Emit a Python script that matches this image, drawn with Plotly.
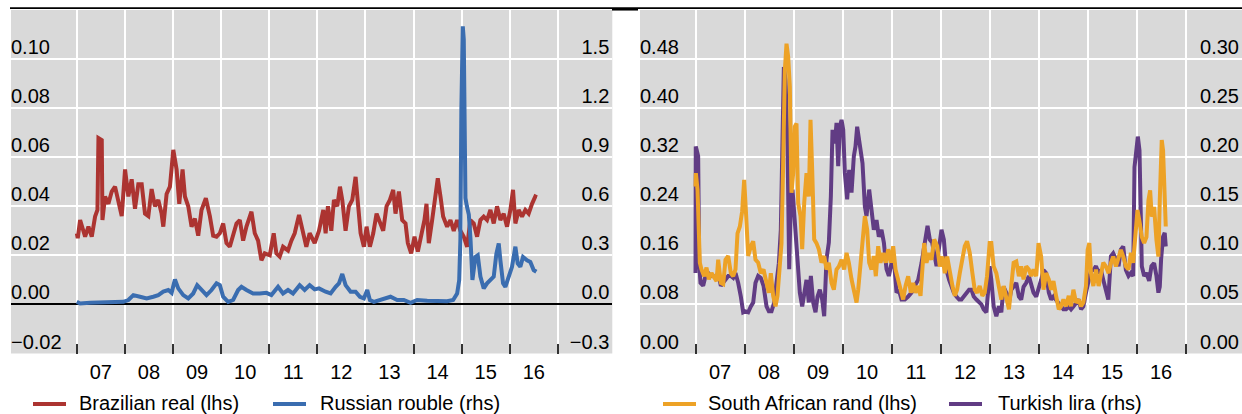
import plotly.graph_objects as go

# ---------------- data (decimal years, values) ----------------
brl_t = [2007.000, 2007.020, 2007.069, 2007.173, 2007.242, 2007.311, 2007.380, 2007.429, 2007.450, 2007.519,
         2007.533, 2007.588, 2007.657, 2007.726, 2007.795, 2007.864, 2007.934, 2008.003, 2008.072, 2008.141,
         2008.210, 2008.279, 2008.349, 2008.418, 2008.487, 2008.556, 2008.625, 2008.694, 2008.763, 2008.798,
         2008.867, 2008.936, 2009.006, 2009.075, 2009.130, 2009.199, 2009.248, 2009.317, 2009.386, 2009.455,
         2009.524, 2009.593, 2009.683, 2009.766, 2009.835, 2009.905, 2009.974, 2010.043, 2010.112, 2010.181,
         2010.250, 2010.320, 2010.389, 2010.458, 2010.527, 2010.631, 2010.700, 2010.769, 2010.838, 2010.907,
         2011.011, 2011.094, 2011.149, 2011.218, 2011.288, 2011.391, 2011.461, 2011.530, 2011.620, 2011.703,
         2011.772, 2011.841, 2011.945, 2012.035, 2012.125, 2012.173, 2012.221, 2012.291, 2012.346, 2012.415,
         2012.471, 2012.519, 2012.588, 2012.657, 2012.727, 2012.796, 2012.844, 2012.900, 2012.969, 2013.024,
         2013.093, 2013.163, 2013.232, 2013.301, 2013.370, 2013.439, 2013.509, 2013.578, 2013.626, 2013.696,
         2013.765, 2013.834, 2013.882, 2013.952, 2014.021, 2014.090, 2014.159, 2014.228, 2014.270, 2014.318,
         2014.388, 2014.457, 2014.505, 2014.561, 2014.616, 2014.699, 2014.768, 2014.837, 2014.907, 2014.976,
         2015.045, 2015.114, 2015.183, 2015.253, 2015.322, 2015.391, 2015.460, 2015.529, 2015.599, 2015.668,
         2015.737, 2015.806, 2015.875, 2015.945, 2016.014, 2016.069, 2016.118, 2016.187, 2016.256, 2016.325,
         2016.394, 2016.464, 2016.533, 2016.567]
brl_v = [0.029, 0.027, 0.0344, 0.0276, 0.0317, 0.0276, 0.0358, 0.0385, 0.0678, 0.067,
         0.0344, 0.044, 0.041, 0.046, 0.048, 0.041, 0.036, 0.055, 0.044, 0.051,
         0.039, 0.049, 0.049, 0.037, 0.036, 0.047, 0.040, 0.0426, 0.037, 0.0317,
         0.045, 0.048, 0.063, 0.055, 0.041, 0.055, 0.044, 0.040, 0.0317, 0.035,
         0.028, 0.0385, 0.0433, 0.036, 0.028, 0.0276, 0.029, 0.033, 0.025, 0.0235,
         0.0276, 0.033, 0.0344, 0.026, 0.0317, 0.0378, 0.029, 0.026, 0.018, 0.0208,
         0.020, 0.029, 0.0208, 0.0195, 0.0235, 0.022, 0.026, 0.029, 0.0365, 0.030,
         0.0235, 0.029, 0.025, 0.030, 0.0385, 0.029, 0.040, 0.030, 0.0426, 0.040,
         0.048, 0.0426, 0.030, 0.040, 0.0426, 0.052, 0.040, 0.029, 0.0235, 0.0317,
         0.0235, 0.029, 0.037, 0.033, 0.030, 0.040, 0.0426, 0.0467, 0.037, 0.046,
         0.0344, 0.033, 0.025, 0.0208, 0.0276, 0.0215, 0.0276, 0.0344, 0.041, 0.025,
         0.0344, 0.045, 0.0514, 0.044, 0.0358, 0.0317, 0.0344, 0.030, 0.0344, 0.030,
         0.0276, 0.0235, 0.0344, 0.033, 0.0276, 0.0344, 0.0358, 0.0344, 0.0385, 0.033,
         0.040, 0.0344, 0.037, 0.0317, 0.0385, 0.0467, 0.033, 0.0385, 0.0358, 0.0385,
         0.037, 0.041, 0.044, 0.0437]

rub_t = [2007.000, 2007.069, 2007.277, 2007.553, 2007.761, 2007.968, 2008.072, 2008.176, 2008.314, 2008.452,
         2008.591, 2008.694, 2008.798, 2008.902, 2008.971, 2009.040, 2009.109, 2009.213, 2009.317, 2009.420,
         2009.503, 2009.593, 2009.697, 2009.801, 2009.905, 2009.974, 2010.043, 2010.147, 2010.250, 2010.354,
         2010.423, 2010.527, 2010.665, 2010.804, 2010.942, 2011.046, 2011.184, 2011.288, 2011.391, 2011.495,
         2011.633, 2011.737, 2011.841, 2011.945, 2012.035, 2012.173, 2012.277, 2012.381, 2012.450, 2012.519,
         2012.588, 2012.692, 2012.796, 2012.886, 2012.969, 2013.038, 2013.093, 2013.176, 2013.315, 2013.522,
         2013.661, 2013.799, 2013.938, 2014.076, 2014.284, 2014.491, 2014.699, 2014.824, 2014.907, 2014.950,
         2014.975, 2014.995, 2015.010, 2015.025, 2015.045, 2015.062, 2015.080, 2015.110, 2015.150, 2015.185,
         2015.225, 2015.287, 2015.336, 2015.391, 2015.460, 2015.529, 2015.599, 2015.668, 2015.723, 2015.772,
         2015.806, 2015.862, 2015.910, 2015.979, 2016.048, 2016.118, 2016.166, 2016.221, 2016.277, 2016.360,
         2016.429, 2016.498, 2016.554]
rub_v = [0.016, 0.006, 0.010, 0.014, 0.016, 0.016, 0.027, 0.057, 0.047, 0.037,
         0.047, 0.057, 0.078, 0.088, 0.071, 0.153, 0.098, 0.057, 0.037, 0.067,
         0.118, 0.088, 0.057, 0.088, 0.129, 0.118, 0.047, 0.016, 0.027, 0.088,
         0.108, 0.088, 0.067, 0.067, 0.071, 0.057, 0.108, 0.067, 0.088, 0.067,
         0.118, 0.088, 0.118, 0.092, 0.098, 0.078, 0.067, 0.108, 0.129, 0.186,
         0.118, 0.078, 0.078, 0.047, 0.037, 0.088, 0.027, 0.016, 0.027, 0.047,
         0.027, 0.027, 0.010, 0.027, 0.022, 0.022, 0.020, 0.027, 0.067, 0.149,
         0.40, 1.20, 1.68, 1.70, 1.62, 1.00, 0.65, 0.60, 0.55, 0.40,
         0.15, 0.29, 0.30, 0.17, 0.098, 0.129, 0.149, 0.17, 0.31, 0.373,
         0.27, 0.129, 0.108, 0.17, 0.23, 0.353, 0.25, 0.23, 0.29, 0.27,
         0.26, 0.21, 0.20]

zar_t = [2007.000, 2007.007, 2007.041, 2007.068, 2007.088, 2007.122, 2007.177, 2007.224, 2007.272, 2007.327,
         2007.381, 2007.429, 2007.463, 2007.517, 2007.565, 2007.612, 2007.667, 2007.721, 2007.769, 2007.816,
         2007.857, 2007.905, 2007.952, 2007.993, 2008.027, 2008.075, 2008.129, 2008.177, 2008.224, 2008.279,
         2008.333, 2008.388, 2008.449, 2008.497, 2008.537, 2008.585, 2008.633, 2008.673, 2008.714, 2008.755,
         2008.789, 2008.823, 2008.857, 2008.891, 2008.925, 2008.959, 2008.993, 2009.027, 2009.061, 2009.095,
         2009.143, 2009.177, 2009.218, 2009.265, 2009.313, 2009.347, 2009.381, 2009.422, 2009.469, 2009.517,
         2009.571, 2009.626, 2009.673, 2009.721, 2009.776, 2009.823, 2009.878, 2009.925, 2009.980, 2010.034,
         2010.082, 2010.129, 2010.184, 2010.238, 2010.286, 2010.320, 2010.367, 2010.408, 2010.456, 2010.503,
         2010.544, 2010.592, 2010.639, 2010.680, 2010.728, 2010.776, 2010.830, 2010.884, 2010.932, 2010.986,
         2011.034, 2011.082, 2011.136, 2011.190, 2011.238, 2011.286, 2011.340, 2011.395, 2011.442, 2011.490,
         2011.544, 2011.592, 2011.626, 2011.667, 2011.714, 2011.762, 2011.816, 2011.871, 2011.932, 2011.986,
         2012.041, 2012.088, 2012.136, 2012.190, 2012.244, 2012.292, 2012.339, 2012.393, 2012.447, 2012.495,
         2012.542, 2012.597, 2012.651, 2012.698, 2012.746, 2012.800, 2012.854, 2012.902, 2012.949, 2013.003,
         2013.037, 2013.085, 2013.139, 2013.193, 2013.241, 2013.288, 2013.342, 2013.397, 2013.444, 2013.492,
         2013.546, 2013.600, 2013.647, 2013.695, 2013.749, 2013.803, 2013.851, 2013.898, 2013.953, 2014.000,
         2014.054, 2014.102, 2014.156, 2014.210, 2014.258, 2014.305, 2014.359, 2014.414, 2014.461, 2014.508,
         2014.563, 2014.617, 2014.664, 2014.712, 2014.766, 2014.820, 2014.868, 2014.915, 2014.969, 2015.003,
         2015.037, 2015.071, 2015.119, 2015.173, 2015.227, 2015.275, 2015.322, 2015.376, 2015.431, 2015.478,
         2015.525, 2015.580, 2015.634, 2015.681, 2015.729, 2015.783, 2015.837, 2015.885, 2015.932, 2015.973,
         2016.020, 2016.068, 2016.108, 2016.156, 2016.203, 2016.244, 2016.278, 2016.312, 2016.359, 2016.407,
         2016.447, 2016.475, 2016.515, 2016.542, 2016.576, 2016.597]
zar_v = [0.272, 0.294, 0.267, 0.180, 0.148, 0.137, 0.126, 0.140, 0.121, 0.131,
         0.123, 0.118, 0.153, 0.115, 0.113, 0.153, 0.159, 0.131, 0.126, 0.137,
         0.196, 0.207, 0.232, 0.283, 0.234, 0.159, 0.175, 0.183, 0.153, 0.148,
         0.131, 0.137, 0.115, 0.099, 0.131, 0.094, 0.077, 0.094, 0.137, 0.180,
         0.310, 0.462, 0.505, 0.484, 0.435, 0.262, 0.294, 0.370, 0.375, 0.245,
         0.224, 0.170, 0.245, 0.294, 0.256, 0.381, 0.300, 0.186, 0.180, 0.170,
         0.148, 0.159, 0.137, 0.148, 0.115, 0.104, 0.137, 0.142, 0.153, 0.137,
         0.164, 0.148, 0.121, 0.104, 0.083, 0.104, 0.148, 0.191, 0.224, 0.202,
         0.148, 0.137, 0.159, 0.126, 0.175, 0.148, 0.164, 0.148, 0.170, 0.148,
         0.175, 0.137, 0.121, 0.104, 0.088, 0.110, 0.126, 0.099, 0.115, 0.099,
         0.110, 0.094, 0.142, 0.180, 0.148, 0.164, 0.153, 0.186, 0.175, 0.142,
         0.158, 0.131, 0.158, 0.131, 0.110, 0.094, 0.104, 0.131, 0.158, 0.175,
         0.183, 0.164, 0.131, 0.104, 0.099, 0.110, 0.094, 0.099, 0.126, 0.180,
         0.180, 0.142, 0.131, 0.104, 0.088, 0.110, 0.088, 0.072, 0.110, 0.148,
         0.150, 0.126, 0.142, 0.121, 0.142, 0.137, 0.126, 0.137, 0.126, 0.180,
         0.158, 0.104, 0.131, 0.121, 0.104, 0.118, 0.094, 0.072, 0.077, 0.088,
         0.077, 0.094, 0.077, 0.104, 0.083, 0.088, 0.077, 0.083, 0.110, 0.169,
         0.180, 0.131, 0.110, 0.137, 0.110, 0.131, 0.148, 0.142, 0.131, 0.148,
         0.158, 0.142, 0.158, 0.169, 0.158, 0.142, 0.137, 0.164, 0.148, 0.196,
         0.234, 0.212, 0.190, 0.180, 0.190, 0.250, 0.266, 0.223, 0.239, 0.185,
         0.158, 0.250, 0.348, 0.331, 0.212, 0.207]

try_t = [2007.000, 2007.005, 2007.020, 2007.054, 2007.075, 2007.102, 2007.156, 2007.204, 2007.259, 2007.313,
         2007.361, 2007.408, 2007.463, 2007.517, 2007.565, 2007.612, 2007.667, 2007.721, 2007.769, 2007.816,
         2007.871, 2007.925, 2007.973, 2008.020, 2008.075, 2008.129, 2008.177, 2008.224, 2008.279, 2008.333,
         2008.388, 2008.449, 2008.497, 2008.551, 2008.605, 2008.653, 2008.701, 2008.741, 2008.776, 2008.803,
         2008.837, 2008.878, 2008.912, 2008.946, 2008.980, 2009.014, 2009.048, 2009.095, 2009.129, 2009.177,
         2009.218, 2009.265, 2009.313, 2009.354, 2009.401, 2009.449, 2009.490, 2009.537, 2009.585, 2009.626,
         2009.673, 2009.721, 2009.762, 2009.796, 2009.844, 2009.878, 2009.912, 2009.946, 2009.980, 2010.014,
         2010.048, 2010.095, 2010.136, 2010.184, 2010.231, 2010.265, 2010.299, 2010.333, 2010.367, 2010.408,
         2010.456, 2010.490, 2010.544, 2010.592, 2010.639, 2010.694, 2010.741, 2010.796, 2010.844, 2010.898,
         2010.946, 2011.000, 2011.054, 2011.102, 2011.150, 2011.204, 2011.272, 2011.340, 2011.408, 2011.476,
         2011.544, 2011.612, 2011.680, 2011.735, 2011.782, 2011.830, 2011.871, 2011.919, 2011.973, 2012.020,
         2012.068, 2012.122, 2012.176, 2012.224, 2012.271, 2012.325, 2012.380, 2012.427, 2012.475, 2012.529,
         2012.583, 2012.631, 2012.678, 2012.732, 2012.786, 2012.834, 2012.881, 2012.936, 2012.969, 2013.003,
         2013.037, 2013.085, 2013.139, 2013.193, 2013.241, 2013.288, 2013.342, 2013.397, 2013.444, 2013.492,
         2013.546, 2013.600, 2013.647, 2013.695, 2013.749, 2013.803, 2013.851, 2013.898, 2013.953, 2014.000,
         2014.054, 2014.102, 2014.156, 2014.210, 2014.258, 2014.305, 2014.359, 2014.414, 2014.461, 2014.508,
         2014.563, 2014.617, 2014.664, 2014.712, 2014.766, 2014.820, 2014.868, 2014.915, 2014.969, 2015.024,
         2015.071, 2015.119, 2015.173, 2015.227, 2015.275, 2015.322, 2015.376, 2015.424, 2015.478, 2015.525,
         2015.580, 2015.634, 2015.681, 2015.729, 2015.783, 2015.837, 2015.885, 2015.932, 2015.959, 2015.986,
         2016.027, 2016.061, 2016.081, 2016.108, 2016.156, 2016.203, 2016.258, 2016.305, 2016.359, 2016.407,
         2016.447, 2016.475, 2016.502, 2016.542, 2016.576, 2016.597]
try_v = [0.082, 0.211, 0.208, 0.201, 0.092, 0.072, 0.069, 0.079, 0.082, 0.079,
         0.079, 0.077, 0.082, 0.069, 0.072, 0.074, 0.079, 0.079, 0.077, 0.082,
         0.072, 0.058, 0.042, 0.043, 0.042, 0.048, 0.052, 0.072, 0.079, 0.077,
         0.069, 0.048, 0.043, 0.043, 0.052, 0.072, 0.092, 0.126, 0.228, 0.292,
         0.279, 0.211, 0.086, 0.160, 0.167, 0.143, 0.126, 0.092, 0.062, 0.048,
         0.062, 0.075, 0.052, 0.079, 0.052, 0.042, 0.058, 0.065, 0.055, 0.038,
         0.096, 0.113, 0.160, 0.228, 0.214, 0.235, 0.191, 0.231, 0.238, 0.228,
         0.184, 0.157, 0.187, 0.164, 0.201, 0.211, 0.231, 0.218, 0.208, 0.194,
         0.150, 0.140, 0.167, 0.143, 0.126, 0.136, 0.119, 0.126, 0.113, 0.086,
         0.079, 0.092, 0.092, 0.062, 0.065, 0.055, 0.055, 0.058, 0.062, 0.069,
         0.075, 0.092, 0.113, 0.130, 0.116, 0.113, 0.102, 0.089, 0.109, 0.126,
         0.116, 0.085, 0.075, 0.068, 0.062, 0.058, 0.055, 0.055, 0.058, 0.062,
         0.065, 0.065, 0.058, 0.055, 0.052, 0.050, 0.045, 0.042, 0.062, 0.089,
         0.075, 0.048, 0.038, 0.048, 0.042, 0.068, 0.062, 0.052, 0.065, 0.068,
         0.072, 0.058, 0.055, 0.068, 0.072, 0.079, 0.068, 0.062, 0.058, 0.065,
         0.075, 0.085, 0.082, 0.062, 0.055, 0.058, 0.055, 0.052, 0.048, 0.045,
         0.045, 0.048, 0.045, 0.048, 0.052, 0.055, 0.045, 0.048, 0.062, 0.075,
         0.085, 0.085, 0.089, 0.082, 0.085, 0.075, 0.062, 0.055, 0.099, 0.102,
         0.096, 0.089, 0.106, 0.109, 0.085, 0.079, 0.082, 0.079, 0.190, 0.207,
         0.221, 0.207, 0.123, 0.089, 0.079, 0.082, 0.074, 0.089, 0.092, 0.079,
         0.062, 0.068, 0.096, 0.119, 0.123, 0.109]

# axis ticks / labels
year_bounds = list(range(2007, 2018))
year_mids = [y + 0.5 for y in range(2007, 2017)]
year_labels = ["07", "08", "09", "10", "11", "12", "13", "14", "15", "16"]
l_lhs_vals = [-0.02, 0.0, 0.02, 0.04, 0.06, 0.08, 0.10]
l_lhs_text = ["\u22120.02", "0.00", "0.02", "0.04", "0.06", "0.08", "0.10"]
l_rhs_vals = [-0.3, 0.0, 0.3, 0.6, 0.9, 1.2, 1.5]
l_rhs_text = ["\u22120.3", "0.0", "0.3", "0.6", "0.9", "1.2", "1.5"]
r_lhs_vals = [0.0, 0.08, 0.16, 0.24, 0.32, 0.40, 0.48]
r_lhs_text = ["0.00", "0.08", "0.16", "0.24", "0.32", "0.40", "0.48"]
r_rhs_vals = [0.0, 0.05, 0.10, 0.15, 0.20, 0.25, 0.30]
r_rhs_text = ["0.00", "0.05", "0.10", "0.15", "0.20", "0.25", "0.30"]

# ---------------- styling ----------------
W, H = 1242, 414
FONT = "Liberation Sans, Arial, sans-serif"
FS = 20
C_RED, C_BLUE, C_ORANGE, C_PURPLE = "#AC3431", "#3A6DB0", "#EDA226", "#613C84"
BG = "#D9D9D9"
LW = 4

ydom = [1 - 353.5 / H, 1 - 10 / H]
xdom_l = [11 / W, 612.3 / W]
xdom_r = [640 / W, 1.0]

series = [
    # name, x, y, colour, xaxis, yaxis, legend sample start / text start (px)
    ("Brazilian real (lhs)", brl_t, brl_v, C_RED, "x", "y", 33, 77),
    ("Russian rouble (rhs)", rub_t, rub_v, C_BLUE, "x", "y2", 273, 318),
    ("Turkish lira (rhs)", try_t, try_v, C_PURPLE, "x2", "y3", 949, 996),
    ("South African rand (lhs)", zar_t, zar_v, C_ORANGE, "x2", "y4", 663, 706),
]

fig = go.Figure()
shapes = [
    dict(type="line", xref="paper", yref="paper", x0=10 / W, x1=1, y0=1 - 8.2 / H, y1=1 - 8.2 / H,
         line=dict(color="black", width=1.8)),
    dict(type="line", xref="paper", yref="paper", x0=612 / W, x1=638 / W, y0=1 - 9.3 / H, y1=1 - 9.3 / H,
         line=dict(color="black", width=2.5)),
]
annotations = []
LEG_Y = 1 - 402.5 / H
for name, xs, ys, col, xa, ya, sx, tx in series:
    fig.add_trace(go.Scatter(x=xs, y=ys, mode="lines", name=name, showlegend=False,
                             line=dict(color=col, width=LW), xaxis=xa, yaxis=ya))
    shapes.append(dict(type="line", xref="paper", yref="paper", x0=sx / W, x1=(sx + 33) / W,
                       y0=1 - 404 / H, y1=1 - 404 / H, line=dict(color=col, width=LW)))
    annotations.append(dict(xref="paper", yref="paper", x=tx / W, y=LEG_Y, xanchor="left",
                            yanchor="middle", text=name, showarrow=False,
                            font=dict(family=FONT, size=FS, color="black")))

def xaxis_cfg(dom, rng, anchor):
    return dict(domain=dom, range=rng, anchor=anchor, showline=False, zeroline=False,
                tickmode="array", tickvals=year_mids, ticktext=year_labels, ticks="",
                showgrid=False, ticklabelstandoff=4,
                tickfont=dict(family=FONT, size=FS, color="black"),
                minor=dict(tickmode="array", tickvals=year_bounds, showgrid=True, gridcolor="white",
                           gridwidth=2, ticks="inside", ticklen=10, tickwidth=1.5, tickcolor="#333"))

def yaxis_left_inside(rng, vals, text, grid, anchor, overlaying=None, zero=False):
    d = dict(domain=ydom, range=rng, side="left", anchor=anchor, tickmode="array", tickvals=vals,
             ticktext=text, ticklabelposition="inside", ticklabelshift=-12, ticklabelstandoff=-3,
             ticks="", showline=False, showgrid=grid, gridcolor="white", gridwidth=2,
             zeroline=zero, zerolinecolor="black", zerolinewidth=1.5,
             tickfont=dict(family=FONT, size=FS, color="black"))
    if overlaying:
        d["overlaying"] = overlaying
    return d

def yaxis_right_edge(rng, vals, text, grid, pos, overlaying=None):
    d = dict(domain=ydom, range=rng, side="left", anchor="free", position=pos, tickmode="array",
             tickvals=vals, ticktext=text, ticklabelposition="outside", ticklabelshift=-12,
             ticklabelstandoff=3, ticks="", showline=False, showgrid=grid, gridcolor="white",
             gridwidth=2, zeroline=False, tickfont=dict(family=FONT, size=FS, color="black"))
    if overlaying:
        d["overlaying"] = overlaying
    return d

fig.update_layout(
    width=W, height=H, margin=dict(l=0, r=0, t=0, b=0, autoexpand=False),
    paper_bgcolor="white", plot_bgcolor=BG,
    font=dict(family=FONT, size=FS, color="black"),
    showlegend=False,
    xaxis=xaxis_cfg(xdom_l, [2005.632, 2018.133], "y"),
    yaxis=yaxis_left_inside([-0.02, 0.12], l_lhs_vals, l_lhs_text, True, "x", zero=True),
    yaxis2=yaxis_right_edge([-0.3, 1.8], l_rhs_vals, l_rhs_text, False, xdom_l[1], overlaying="y"),
    xaxis2=xaxis_cfg(xdom_r, [2005.867, 2018.153], "y3"),
    yaxis3=yaxis_right_edge([0, 0.35], r_rhs_vals, r_rhs_text, True, xdom_r[1]),
    yaxis4=yaxis_left_inside([0, 0.56], r_lhs_vals, r_lhs_text, False, "x2", overlaying="y3"),
    shapes=shapes,
    annotations=annotations,
)

fig.write_html("out.html", config={"displayModeBar": False},
               post_script="document.body.style.margin='0';document.body.style.overflow='hidden';")
